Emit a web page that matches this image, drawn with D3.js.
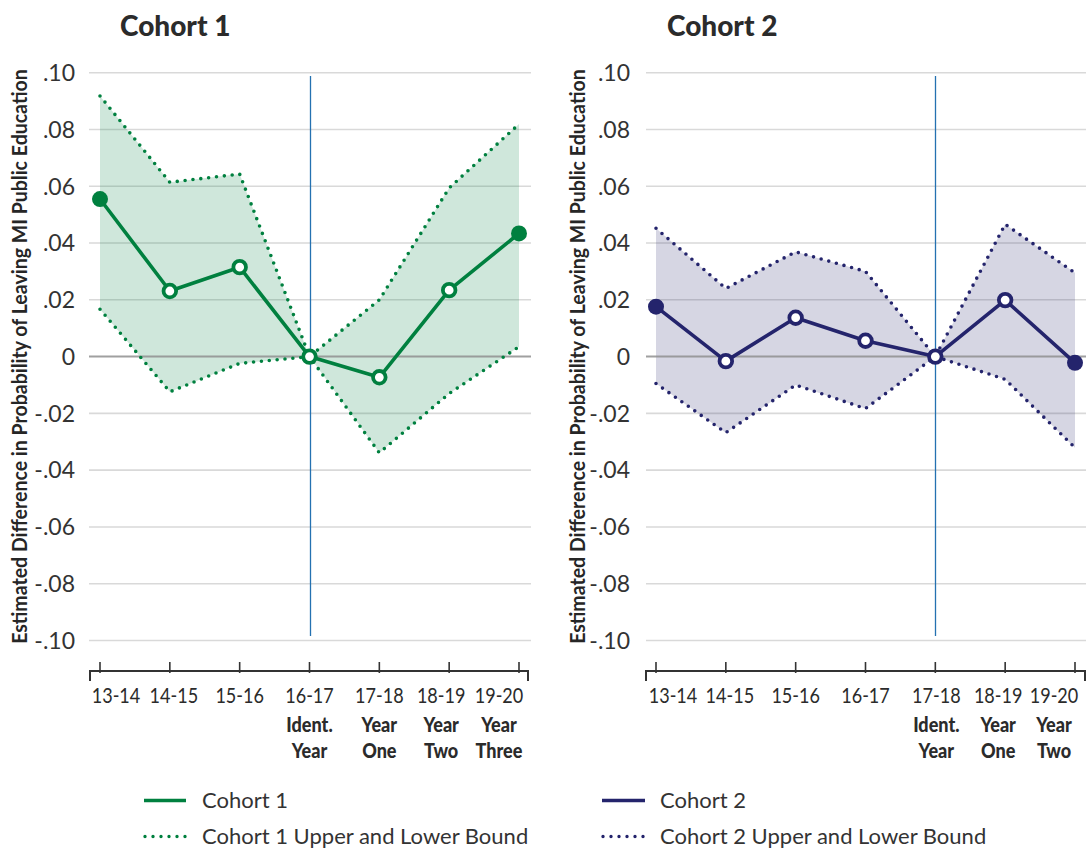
<!DOCTYPE html>
<html>
<head>
<meta charset="utf-8">
<script src="https://cdn.jsdelivr.net/npm/d3@7"></script>
<style>
  html, body { margin: 0; padding: 0; background: #ffffff; }
  svg { display: block; }
  text { fill: #262626; }
</style>
</head>
<body>
<svg id="chart" width="1086" height="852"></svg>
<script>
// School-year categories and the event-time labels under each panel
const categories1 = ["13-14", "14-15", "15-16", "16-17", "17-18", "18-19", "19-20"];
const subLabels1 = [[], [], [], ["Ident.", "Year"], ["Year", "One"], ["Year", "Two"], ["Year", "Three"]];
const categories2 = ["13-14", "14-15", "15-16", "16-17", "17-18", "18-19", "19-20"];
const subLabels2 = [[], [], [], [], ["Ident.", "Year"], ["Year", "One"], ["Year", "Two"]];

// Estimated differences with upper and lower confidence bounds
const cohort1Est   = [0.0555, 0.0231, 0.0315, 0, -0.0073, 0.0234, 0.0434];
const cohort1Upper = [0.0918, 0.0614, 0.0643, 0, 0.0200, 0.0594, 0.0819];
const cohort1Lower = [0.0167, -0.0124, -0.0024, 0, -0.0339, -0.0130, 0.0035];

const cohort2Est   = [0.0176, -0.0016, 0.0137, 0.0056, 0, 0.0199, -0.0022];
const cohort2Upper = [0.0452, 0.0240, 0.0369, 0.0300, 0, 0.0466, 0.0295];
const cohort2Lower = [-0.0095, -0.0268, -0.0100, -0.0183, 0, -0.0080, -0.0321];

const yTicks = [0.10, 0.08, 0.06, 0.04, 0.02, 0, -0.02, -0.04, -0.06, -0.08, -0.10];
const yTitle = "Estimated Difference in Probability of Leaving MI Public Education";

const svg = d3.select("#chart");
const y = d3.scaleLinear().domain([-0.1, 0.1]).range([640.5, 72.7]);
const fmt = v => v === 0 ? "0" : (v < 0 ? "-" : "") + Math.abs(v).toFixed(2).slice(1);
const FONT = "Lato, 'Open Sans', sans-serif";

const panels = [
  {
    title: "Cohort 1", titleX: 120, categories: categories1, subLabels: subLabels1,
    est: cohort1Est, upper: cohort1Upper, lower: cohort1Lower, identIndex: 3,
    color: "#00803f", xRange: [100, 519], axisExtent: [90, 528], gridExtent: [89, 531],
    // label nudges keep the outer labels clear of the axis ends
    labelShift: [16, 4, 0, 0, 0, -8, -20],
    tickLabelX: 75, yTitleX: 19,
    legendSwatch: [144, 186], legendTextX: 202
  },
  {
    title: "Cohort 2", titleX: 667, categories: categories2, subLabels: subLabels2,
    est: cohort2Est, upper: cohort2Upper, lower: cohort2Lower, identIndex: 4,
    color: "#24246c", xRange: [656, 1075], axisExtent: [646, 1085], gridExtent: [646, 1086],
    labelShift: [17, 4, 0, 0, 1, -7, -21],
    tickLabelX: 630, yTitleX: 577,
    legendSwatch: [602, 645], legendTextX: 660
  }
];

panels.forEach(p => {
  const g = svg.append("g");
  const x = d3.scalePoint().domain(p.categories).range(p.xRange).padding(0);

  // Title
  g.append("text")
    .attr("x", p.titleX).attr("y", 36)
    .style("font-family", FONT)
    .style("font-weight", 900).style("font-size", "28px")
    .style("fill", "#2b2b2b")
    .text(p.title);

  // Horizontal grid lines
  g.append("g").selectAll("line").data(yTicks.filter(v => v !== 0)).join("line")
    .attr("x1", p.gridExtent[0]).attr("x2", p.gridExtent[1])
    .attr("y1", d => y(d)).attr("y2", d => y(d))
    .attr("stroke", "#d9d9d9").attr("stroke-width", 1.6);

  // Y tick labels
  g.append("g").selectAll("text").data(yTicks).join("text")
    .attr("x", p.tickLabelX).attr("y", d => y(d)).attr("dy", "0.36em")
    .attr("text-anchor", "end")
    .style("font-family", FONT)
    .style("font-size", "23px").style("fill", "#333")
    .text(fmt);

  // Y axis title
  g.append("text")
    .attr("transform", `translate(${p.yTitleX},${y(0)}) rotate(-90) scale(0.93,1)`)
    .attr("text-anchor", "middle").attr("dy", "0.36em")
    .style("font-family", FONT)
    .style("font-weight", 700).style("font-size", "21px").style("fill", "#262626")
    .text(yTitle);

  // Confidence band
  const area = d3.area()
    .x((d, i) => x(p.categories[i]))
    .y0((d, i) => y(p.lower[i]))
    .y1((d, i) => y(p.upper[i]));
  g.append("path").datum(p.est)
    .attr("d", area)
    .attr("fill", p.color).attr("fill-opacity", 0.19);

  // Zero line
  g.append("line")
    .attr("x1", p.gridExtent[0]).attr("x2", p.gridExtent[1])
    .attr("y1", y(0)).attr("y2", y(0))
    .attr("stroke", "#8f8f8f").attr("stroke-opacity", 0.85).attr("stroke-width", 2);

  // Identification-year marker
  const ix = Math.round(x(p.categories[p.identIndex])) + 0.5;
  g.append("line")
    .attr("x1", ix).attr("x2", ix).attr("y1", 76).attr("y2", 636)
    .attr("stroke", "#2471b1").attr("stroke-width", 1.3);

  // Dotted bounds
  const boundLine = vals => d3.line()
    .x((d, i) => x(p.categories[i]))
    .y(d => y(d))(vals);
  [p.upper, p.lower].forEach(vals => {
    g.append("path")
      .attr("d", boundLine(vals))
      .attr("fill", "none").attr("stroke", p.color)
      .attr("stroke-width", 3.6).attr("stroke-linecap", "round")
      .attr("stroke-dasharray", "0 7.9");
  });

  // Estimate line
  g.append("path")
    .attr("d", boundLine(p.est))
    .attr("fill", "none").attr("stroke", p.color)
    .attr("stroke-width", 3.6).attr("stroke-linejoin", "round");

  // Markers: solid at the ends, hollow in between
  const last = p.est.length - 1;
  g.append("g").selectAll("circle").data(p.est).join("circle")
    .attr("cx", (d, i) => x(p.categories[i]))
    .attr("cy", d => y(d))
    .attr("r", (d, i) => (i === 0 || i === last) ? 8 : 6.3)
    .attr("fill", (d, i) => (i === 0 || i === last) ? p.color : "#ffffff")
    .attr("stroke", p.color)
    .attr("stroke-width", (d, i) => (i === 0 || i === last) ? 0 : 3.8);

  // Bottom axis
  const ax = g.append("g").attr("stroke", "#333").attr("stroke-width", 2);
  ax.append("path")
    .attr("d", `M${p.axisExtent[0]},681V671H${p.axisExtent[1]}V681`)
    .attr("fill", "none");
  ax.selectAll("line").data(p.categories).join("line")
    .attr("x1", d => x(d)).attr("x2", d => x(d))
    .attr("y1", 662).attr("y2", 673)
    .attr("stroke-width", 1.6);

  // Category labels
  const lab = g.append("g").selectAll("g").data(p.categories).join("g")
    .attr("transform", (d, i) => `translate(${x(d) + p.labelShift[i]},0)`);
  lab.append("text")
    .attr("transform", "translate(0,703) scale(0.88,1)")
    .attr("text-anchor", "middle")
    .style("font-family", FONT)
    .style("font-size", "20.5px").style("fill", "#2b2b2b")
    .text(d => d);
  lab.each(function(d, i) {
    d3.select(this).selectAll("text.sub").data(p.subLabels[i]).join("text")
      .attr("class", "sub")
      .attr("transform", (s, j) => `translate(0,${732 + j * 26}) scale(0.88,1)`)
      .attr("text-anchor", "middle")
      .style("font-family", FONT)
      .style("font-weight", 900).style("font-size", "20.5px").style("fill", "#2b2b2b")
      .text(s => s);
  });

  // Legend
  const lg = g.append("g");
  lg.append("line")
    .attr("x1", p.legendSwatch[0]).attr("x2", p.legendSwatch[1])
    .attr("y1", 800.5).attr("y2", 800.5)
    .attr("stroke", p.color).attr("stroke-width", 3.6);
  lg.append("line")
    .attr("x1", p.legendSwatch[0] + 1).attr("x2", p.legendSwatch[1])
    .attr("y1", 836.5).attr("y2", 836.5)
    .attr("stroke", p.color).attr("stroke-width", 3.4).attr("stroke-linecap", "round")
    .attr("stroke-dasharray", "0 8");
  lg.append("text")
    .attr("x", p.legendTextX).attr("y", 808)
    .style("font-family", FONT)
    .style("font-size", "22px").style("fill", "#333")
    .text(p.title);
  lg.append("text")
    .attr("x", p.legendTextX).attr("y", 844)
    .style("font-family", FONT)
    .style("font-size", "22px").style("fill", "#333")
    .text(p.title + " Upper and Lower Bound");
});
</script>
</body>
</html>
